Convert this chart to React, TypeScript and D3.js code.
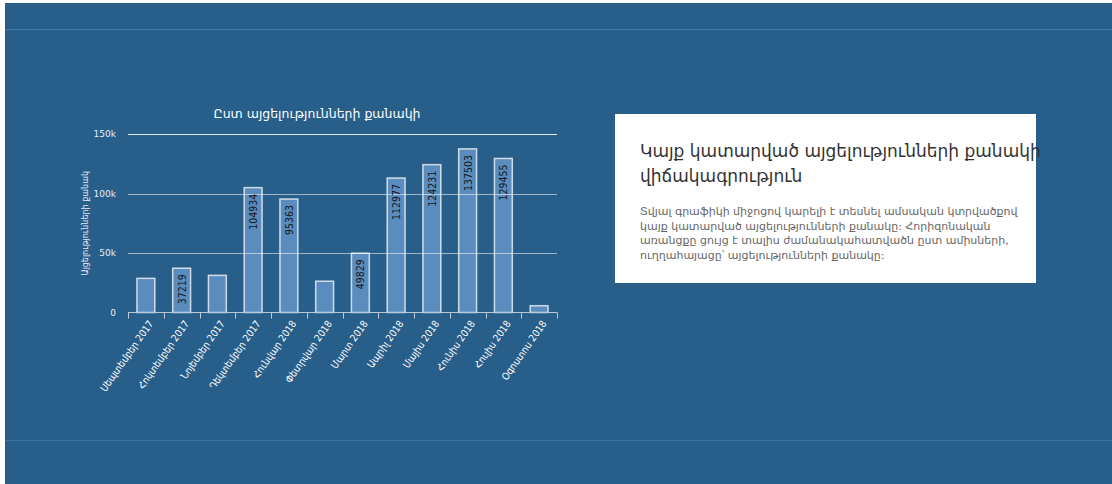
import * as d3 from 'd3';
import React, { Component } from 'react';

// data
const months = [
  'Սեպտեմբեր 2017',
  'Հոկտեմբեր 2017',
  'Նոյեմբեր 2017',
  'Դեկտեմբեր 2017',
  'Հունվար 2018',
  'Փետրվար 2018',
  'Մարտ 2018',
  'Ապրիլ 2018',
  'Մայիս 2018',
  'Հունիս 2018',
  'Հուլիս 2018',
  'Օգոստոս 2018',
];
const visits = [28700, 37219, 31200, 104934, 95363, 26300, 49829, 112977, 124231, 137503, 129455, 5700];
const showValue = [false, true, false, true, true, false, true, true, true, true, true, false];
const yTicks = [0, 50000, 100000, 150000];

const chartTitle = 'Ըստ այցելությունների քանակի';
const yLabel = 'Այցելությունների քանակ';
const panelTitle = ['Կայք կատարված այցելությունների քանակի', 'վիճակագրություն'];
const panelText = [
  'Տվյալ գրաֆիկի միջոցով կարելի է տեսնել ամսական կտրվածքով',
  'կայք կատարված այցելությունների քանակը: Հորիզոնական',
  'առանցքը ցույց է տալիս ժամանակահատվածն ըստ ամիսների,',
  'ուղղահայացը՝ այցելությունների քանակը:',
];

const BG = '#285e8a';
const FONT = '"DejaVu Sans", "Noto Sans", sans-serif';
const FONT_NARROW = '"DejaVu Sans Condensed", "DejaVu Sans", sans-serif';

interface IAppProps {}

class App extends Component<IAppProps> {
  private node: any;

  // tslint:disable-next-line member-access
  componentDidMount() {
    this.draw();
  }

  // tslint:disable-next-line member-access
  draw() {
    const width = 1107;
    const height = 481;
    const svg = d3.select(this.node);
    svg.selectAll('*').remove();
    svg.attr('width', width).attr('height', height);

    svg.append('rect').attr('width', width).attr('height', height).attr('fill', BG);
    svg.append('line').attr('x1', 0).attr('x2', width).attr('y1', 26.5).attr('y2', 26.5)
      .attr('stroke', '#3f78a4').attr('stroke-width', 1);
    svg.append('line').attr('x1', 0).attr('x2', width).attr('y1', 437.5).attr('y2', 437.5)
      .attr('stroke', '#3a739f').attr('stroke-width', 1);

    // chart area (coords relative to svg, which sits at 5,3)
    const left = 123;
    const right = 552;
    const top = 131;
    const bottom = 309.5;

    const data = months.map((m, i) => ({ month: m, value: visits[i], show: showValue[i] }));

    const x = d3.scaleBand<string>().domain(months).range([left, right]).paddingInner(0.5).paddingOuter(0.25);
    const xEdge = d3.scaleBand<string>().domain(months).range([left, right]).padding(0);
    const y = d3.scaleLinear().domain([0, 150000]).range([bottom, top]);

    const g = svg.append('g');

    g.append('text')
      .attr('x', 312)
      .attr('y', 115)
      .attr('text-anchor', 'middle')
      .attr('font-family', FONT)
      .attr('font-size', 12.5)
      .attr('fill', '#ffffff')
      .text(chartTitle);

    // bars
    g.selectAll('rect.bar')
      .data(data)
      .enter()
      .append('rect')
      .attr('class', 'bar')
      .attr('x', (d) => x(d.month) as number)
      .attr('width', x.bandwidth())
      .attr('y', (d) => y(d.value))
      .attr('height', (d) => bottom - y(d.value))
      .attr('fill', '#5a8cbe')
      .attr('stroke', 'rgba(255,255,255,0.75)')
      .attr('stroke-width', 1.5);

    // grid on top of bars
    g.selectAll('line.grid')
      .data(yTicks.filter((t) => t > 0))
      .enter()
      .append('line')
      .attr('x1', left)
      .attr('x2', right)
      .attr('y1', (d) => Math.round(y(d)) + 0.5)
      .attr('y2', (d) => Math.round(y(d)) + 0.5)
      .attr('stroke', (d) => (d === 150000 ? 'rgba(255,255,255,0.85)' : 'rgba(255,255,255,0.55)'))
      .attr('stroke-width', 1);

    g.selectAll('text.ytick')
      .data(yTicks)
      .enter()
      .append('text')
      .attr('x', left - 12)
      .attr('y', (d) => y(d))
      .attr('dy', '0.35em')
      .attr('text-anchor', 'end')
      .attr('font-family', FONT)
      .attr('font-size', 9)
      .attr('fill', '#e6edf4')
      .text((d) => (d === 0 ? '0' : d3.format('~s')(d)));

    g.append('text')
      .attr('transform', 'translate(83,' + (top + bottom) / 2 + ') rotate(-90)')
      .attr('text-anchor', 'middle')
      .attr('font-family', FONT)
      .attr('font-size', 8)
      .attr('fill', '#e6edf4')
      .text(yLabel);

    // x axis
    g.append('line')
      .attr('x1', left)
      .attr('x2', right)
      .attr('y1', bottom)
      .attr('y2', bottom)
      .attr('stroke', '#b8cadb')
      .attr('stroke-width', 1);
    const edges = months.map((m) => xEdge(m) as number).concat([right]);
    g.selectAll('line.xtick')
      .data(edges)
      .enter()
      .append('line')
      .attr('x1', (d) => Math.round(d) + 0.5)
      .attr('x2', (d) => Math.round(d) + 0.5)
      .attr('y1', bottom)
      .attr('y2', bottom + 6)
      .attr('stroke', '#b8cadb');

    g.selectAll('text.xlab')
      .data(months)
      .enter()
      .append('text')
      .attr('transform', (d) => 'translate(' + ((x(d) as number) + x.bandwidth() / 2 + 5) + ',' + (bottom + 9) + ') rotate(-55)')
      .attr('text-anchor', 'end')
      .attr('dy', '0.35em')
      .attr('font-family', FONT_NARROW)
      .attr('font-size', 10)
      .attr('fill', '#ffffff')
      .text((d) => d);

    // value labels inside bars
    g.selectAll('text.val')
      .data(data.filter((d) => d.show))
      .enter()
      .append('text')
      .attr('transform', (d) => 'translate(' + ((x(d.month) as number) + x.bandwidth() / 2 + 4) + ',' + (y(d.value) + 6) + ') rotate(-90)')
      .attr('text-anchor', 'end')
      .attr('font-family', FONT_NARROW)
      .attr('font-size', 10.5)
      .attr('fill', '#151515')
      .text((d) => String(d.value));

    // side panel
    const panel = svg.append('g').attr('transform', 'translate(610,111)');
    panel.append('rect').attr('width', 421).attr('height', 169).attr('fill', '#ffffff');
    panel.selectAll('text.pt')
      .data(panelTitle)
      .enter()
      .append('text')
      .attr('x', 25)
      .attr('y', (d, i) => 43 + i * 25)
      .attr('font-family', FONT)
      .attr('font-size', 17)
      .attr('fill', '#333333')
      .text((d) => d);
    panel.selectAll('text.pp')
      .data(panelText)
      .enter()
      .append('text')
      .attr('x', 25)
      .attr('y', (d, i) => 101 + i * 14.5)
      .attr('font-family', FONT)
      .attr('font-size', 11)
      .attr('fill', '#666666')
      .text((d) => d);
  }

  // tslint:disable-next-line member-access
  render() {
    return (
      <svg
        ref={(node) => (this.node = node)}
        style={{ position: 'absolute', left: 5, top: 3, display: 'block' }}
      />
    );
  }
}

export default App;
